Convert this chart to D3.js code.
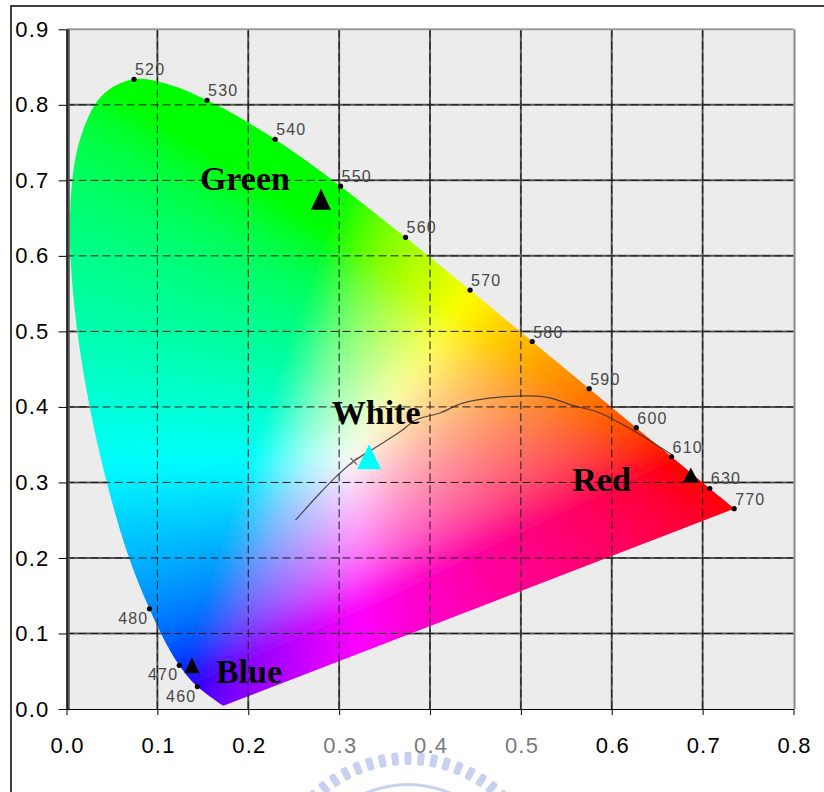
<!DOCTYPE html>
<html>
<head>
<meta charset="utf-8">
<script src="https://cdn.jsdelivr.net/npm/d3@7"></script>
<style>
  body { margin: 0; background: #fff; }
  svg { display: block; }
  .tick text { font-family: "Liberation Sans", Arial, sans-serif; font-size: 22px; letter-spacing: 1.2px; }
  .wl { font-family: "Liberation Sans", Arial, sans-serif; font-size: 16px; fill: #484848; letter-spacing: 1.2px; }
  .name { font-family: "Liberation Serif", "Times New Roman", serif; font-size: 34px; font-weight: bold; }
</style>
</head>
<body>
<div id="chart"></div>
<script>
// CIE 1931 spectral locus: wavelength (nm), x, y
var locus = [
  [380,0.1741,0.0050],[390,0.1738,0.0049],[400,0.1733,0.0048],[410,0.1726,0.0048],
  [420,0.1714,0.0051],[425,0.1703,0.0058],[430,0.1689,0.0069],[435,0.1669,0.0086],
  [440,0.1644,0.0109],[445,0.1611,0.0138],[450,0.1566,0.0177],[455,0.1510,0.0227],
  [460,0.1440,0.0297],[465,0.1355,0.0399],[470,0.1241,0.0578],[475,0.1096,0.0868],
  [480,0.0913,0.1327],[485,0.0687,0.2007],[490,0.0454,0.2950],[495,0.0235,0.4127],
  [500,0.0082,0.5384],[505,0.0039,0.6548],[510,0.0139,0.7502],[515,0.0389,0.8120],
  [520,0.0743,0.8338],[525,0.1142,0.8262],[530,0.1547,0.8059],[535,0.1929,0.7816],
  [540,0.2296,0.7543],[545,0.2658,0.7243],[550,0.3016,0.6923],[555,0.3373,0.6589],
  [560,0.3731,0.6245],[565,0.4087,0.5896],[570,0.4441,0.5547],[575,0.4788,0.5202],
  [580,0.5125,0.4866],[585,0.5448,0.4544],[590,0.5752,0.4242],[595,0.6029,0.3965],
  [600,0.6270,0.3725],[605,0.6482,0.3514],[610,0.6658,0.3340],[615,0.6801,0.3197],
  [620,0.6915,0.3083],[625,0.7006,0.2993],[630,0.7079,0.2920],[640,0.7190,0.2809],
  [650,0.7260,0.2740],[660,0.7300,0.2700],[680,0.7334,0.2666],[700,0.7347,0.2653],
  [770,0.7347,0.2653]
];

// wavelengths marked with a dot and a label
var markedLeft = [460, 470, 480];
var markedRight = [520, 530, 540, 550, 560, 570, 580, 590, 600, 610, 630, 770];

// black body curve
var planckX = [0.252, 0.279, 0.297, 0.316, 0.341, 0.367, 0.385, 0.411, 0.436, 0.477, 0.528, 0.557, 0.587, 0.623, 0.667];
var planckY = [0.250, 0.286, 0.308, 0.328, 0.347, 0.367, 0.383, 0.392, 0.405, 0.413, 0.413, 0.402, 0.392, 0.369, 0.336];

// the four points
var pointNames = ["Green", "White", "Red", "Blue"];
var pointX = [0.280, 0.333, 0.687, 0.138];
var pointY = [0.675, 0.334, 0.310, 0.058];

var xTicks = [0, 0.1, 0.2, 0.3, 0.4, 0.5, 0.6, 0.7, 0.8];
var yTicks = [0, 0.1, 0.2, 0.3, 0.4, 0.5, 0.6, 0.7, 0.8, 0.9];

// Manage picture size
var svgWidth = 824, svgHeight = 792;
var svg = d3.select("#chart").append("svg")
  .attr("width", svgWidth)
  .attr("height", svgHeight);

var x = d3.scaleLinear().domain([0, 0.8]).range([66.5, 793.5]);
var y = d3.scaleLinear().domain([0, 0.9]).range([709, 29.3]);

// outer frame
svg.append("rect")
  .attr("x", 11).attr("y", 6)
  .attr("width", 900).attr("height", 900)
  .attr("fill", "none").attr("stroke", "#000").attr("stroke-width", 1.5);

// plot background
svg.append("rect")
  .attr("x", x(0)).attr("y", y(0.9))
  .attr("width", x(0.8) - x(0)).attr("height", y(0) - y(0.9))
  .attr("fill", "#ececec");

// solid grid of the underlying diagram
var inner = xTicks.slice(1, -1);
svg.append("g").selectAll("line").data(inner).enter().append("line")
  .attr("x1", d => x(d)).attr("x2", d => x(d))
  .attr("y1", y(0.9)).attr("y2", y(0))
  .attr("stroke", "#5a5a5a").attr("stroke-width", 2);
svg.append("g").selectAll("line").data(yTicks.slice(1, -1)).enter().append("line")
  .attr("y1", d => y(d)).attr("y2", d => y(d))
  .attr("x1", x(0)).attr("x2", x(0.8))
  .attr("stroke", "#5a5a5a").attr("stroke-width", 2);

// colour field of the chromaticity diagram, painted on a canvas
function chromaColor(cx, cy) {
  cy = Math.max(cy, 0.002);
  var X = cx / cy, Y = 1, Z = Math.max(1 - cx - cy, 0) / cy;
  var r = 3.2406 * X - 1.5372 * Y - 0.4986 * Z;
  var g = -0.9689 * X + 1.8758 * Y + 0.0415 * Z;
  var b = 0.0557 * X - 0.2040 * Y + 1.0570 * Z;
  r = Math.max(r, 0); g = Math.max(g, 0); b = Math.max(b, 0);
  var m = Math.max(r, g, b) || 1;
  return [r / m, g / m, b / m].map(c => {
    c = c <= 0.0031308 ? 12.92 * c : 1.055 * Math.pow(c, 1 / 2.4) - 0.055;
    return Math.round(255 * Math.min(1, c));
  });
}

var pad = 40;
var px0 = Math.floor(x(0)) - pad, py0 = Math.floor(y(0.9)) - pad;
var cw = Math.ceil(x(0.8)) - px0 + pad, ch = Math.ceil(y(0)) - py0 + pad;
var canvas = document.createElement("canvas");
canvas.width = cw; canvas.height = ch;
var ctx = canvas.getContext("2d");
var img = ctx.createImageData(cw, ch);
for (var j = 0; j < ch; j++) {
  for (var i = 0; i < cw; i++) {
    var c = chromaColor(Math.max(x.invert(px0 + i + 0.5), 0), y.invert(py0 + j + 0.5));
    var k = 4 * (j * cw + i);
    img.data[k] = c[0]; img.data[k + 1] = c[1]; img.data[k + 2] = c[2]; img.data[k + 3] = 255;
  }
}
ctx.putImageData(img, 0, 0);

var defs = svg.append("defs");
defs.append("filter").attr("id", "soft")
  .attr("x", 0).attr("y", 0).attr("width", 1).attr("height", 1)
  .append("feGaussianBlur").attr("stdDeviation", 13).attr("edgeMode", "duplicate");

var locusLine = d3.line().x(d => x(d[1])).y(d => y(d[2])).curve(d3.curveCatmullRom);
defs.append("clipPath").attr("id", "gamut")
  .append("path").attr("d", locusLine(locus) + "Z");

svg.append("g").attr("clip-path", "url(#gamut)")
  .append("image")
  .attr("href", canvas.toDataURL())
  .attr("x", px0).attr("y", py0)
  .attr("width", cw).attr("height", ch)
  .attr("filter", "url(#soft)");

// black body curve and its small cross
var planck = planckX.map((d, i) => [d, planckY[i]]);
svg.append("path")
  .attr("d", d3.line().x(d => x(d[0])).y(d => y(d[1])).curve(d3.curveCatmullRom)(planck))
  .attr("fill", "none").attr("stroke", "#333").attr("stroke-width", 1.2).attr("opacity", 0.85);
svg.append("path")
  .attr("d", d3.symbol(d3.symbolX, 30)())
  .attr("transform", `translate(${x(planck[3][0])},${y(planck[3][1])})`)
  .attr("fill", "none").attr("stroke", "#666").attr("stroke-width", 1.2);

// dashed chart grid on top
svg.append("g").selectAll("line").data(inner).enter().append("line")
  .attr("x1", d => x(d)).attr("x2", d => x(d))
  .attr("y1", y(0.9)).attr("y2", y(0))
  .attr("stroke", "#1a1a1a").attr("stroke-dasharray", "8,4");
svg.append("g").selectAll("line").data(yTicks.slice(1, -1)).enter().append("line")
  .attr("y1", d => y(d)).attr("y2", d => y(d))
  .attr("x1", x(0)).attr("x2", x(0.8))
  .attr("stroke", "#1a1a1a").attr("stroke-dasharray", "8,4");

// borders of the plot
svg.append("line").attr("x1", x(0)).attr("x2", x(0.8)).attr("y1", y(0.9)).attr("y2", y(0.9))
  .attr("stroke", "#9a9a9a").attr("stroke-width", 2);
svg.append("line").attr("x1", x(0.8) + 1).attr("x2", x(0.8) + 1).attr("y1", y(0.9)).attr("y2", y(0))
  .attr("stroke", "#888").attr("stroke-width", 2);
svg.append("line").attr("x1", x(0) + 1.5).attr("x2", x(0) + 1.5).attr("y1", y(0.9)).attr("y2", y(0))
  .attr("stroke", "#505050").attr("stroke-width", 3.5);

// watermark
var wm = svg.append("g").attr("fill", "#c8d0f0").attr("transform", "translate(408,893)");
d3.range(-44, 45, 5.5).forEach(a => {
  wm.append("rect").attr("x", -3.5).attr("y", -141).attr("width", 7).attr("height", 13)
    .attr("rx", 2).attr("transform", `rotate(${a})`);
});
wm.append("path").attr("d", d3.arc()({innerRadius: 107, outerRadius: 110, startAngle: -0.75, endAngle: 0.75}));

// axes
var faded = [0.3, 0.4, 0.5];
var xAxis = d3.axisBottom(x).tickValues(xTicks).tickFormat(d3.format(".1f"))
  .tickSize(6).tickSizeOuter(0).tickPadding(22);
var yAxis = d3.axisLeft(y).tickValues(yTicks).tickFormat(d3.format(".1f"))
  .tickSize(8).tickSizeOuter(0).tickPadding(9);

var gx = svg.append("g").attr("transform", `translate(0,${y(0)})`).call(xAxis);
gx.selectAll(".tick text").attr("fill", d => faded.includes(d) ? "#7a7a7a" : "#000").attr("dx", "0.6px");
gx.select(".domain").attr("stroke", "#000");

var gy = svg.append("g").attr("transform", `translate(${x(0)},0)`).call(yAxis);
gy.selectAll(".tick text").attr("fill", "#000");

// wavelength dots and labels
var byWl = new Map(locus.map(d => [d[0], d]));
var marks = markedLeft.concat(markedRight).map(w => byWl.get(w));
svg.append("g").selectAll("circle").data(marks).enter().append("circle")
  .attr("cx", d => x(d[1])).attr("cy", d => y(d[2]))
  .attr("r", 2.6).attr("fill", "#000");
svg.append("g").selectAll("text").data(marks).enter().append("text")
  .attr("class", "wl")
  .attr("x", d => markedLeft.includes(d[0]) ? x(d[1]) - 1 : x(d[1]) + 1)
  .attr("y", d => markedLeft.includes(d[0]) ? y(d[2]) + 15 : y(d[2]) - 4)
  .attr("text-anchor", d => markedLeft.includes(d[0]) ? "end" : "start")
  .text(d => d[0]);

// triangle markers and names
var triSize = {Green: [20, 21], White: [24, 25], Red: [16, 15], Blue: [15, 16]};
var labelShift = {Green: [-31, -9, "end"], White: [7, -33, "middle"], Red: [-60, 16, "end"], Blue: [24, 18, "start"]};
var pts = pointNames.map((n, i) => ({name: n, x: pointX[i], y: pointY[i]}));

svg.append("g").selectAll("path").data(pts).enter().append("path")
  .attr("d", d => {
    var w = triSize[d.name][0] / 2, h = triSize[d.name][1] / 2;
    return `M0,${-h}L${w},${h}L${-w},${h}Z`;
  })
  .attr("transform", d => `translate(${x(d.x)},${y(d.y)})`)
  .attr("fill", d => d.name === "White" ? "#00ffff" : "#000");

svg.append("g").selectAll("text").data(pts).enter().append("text")
  .attr("class", "name")
  .attr("x", d => x(d.x) + labelShift[d.name][0])
  .attr("y", d => y(d.y) + labelShift[d.name][1])
  .attr("text-anchor", d => labelShift[d.name][2])
  .text(d => d.name);
</script>
</body>
</html>
